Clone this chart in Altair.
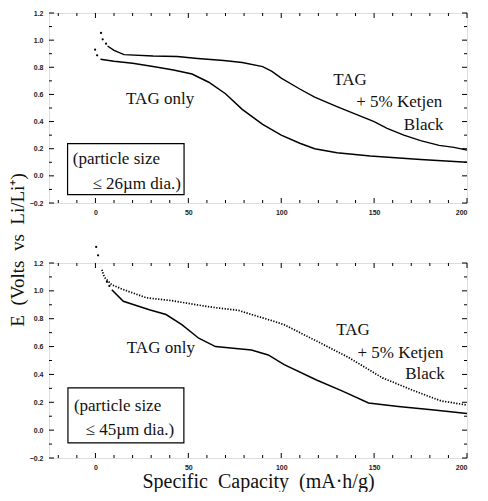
import altair as alt
import pandas as pd

# ---------------- data ----------------
# upper panel: particle size <= 26 um
top_kb_dots_x = [3.0, 3.9, 5.7]
top_kb_dots_y = [1.053, 1.006, 0.974]
top_kb_x = [6.5, 10, 15.4, 31, 44, 55, 69, 79, 90, 95, 100, 110, 118, 130, 139, 150, 157, 166, 175, 185, 193, 200]
top_kb_y = [0.957, 0.925, 0.893, 0.883, 0.88, 0.865, 0.85, 0.835, 0.805, 0.77, 0.72, 0.64, 0.58, 0.51, 0.46, 0.40, 0.35, 0.30, 0.26, 0.225, 0.21, 0.19]
top_only_dots_x = [-0.2, 0.9]
top_only_dots_y = [0.93, 0.888]
top_only_x = [2.7, 10, 20, 31, 42, 52, 61, 70, 79, 90, 100, 110, 118, 130, 148, 175, 200]
top_only_y = [0.86, 0.845, 0.83, 0.805, 0.78, 0.75, 0.69, 0.605, 0.49, 0.38, 0.30, 0.24, 0.20, 0.17, 0.146, 0.12, 0.10]

# lower panel: particle size <= 45 um
bot_kb_dots_x = [0.4, 1.4]
bot_kb_dots_y = [1.315, 1.255]
bot_kb_x = [3.5, 4.4, 5.3, 8.8, 14.8, 27.5, 41, 59, 66, 77, 84, 94, 101.6, 119, 136.5, 154.5, 172, 186, 200]
bot_kb_y = [1.152, 1.112, 1.09, 1.044, 1.01, 0.95, 0.93, 0.89, 0.877, 0.86, 0.83, 0.79, 0.757, 0.64, 0.52, 0.375, 0.28, 0.21, 0.18]
bot_only_dots_x = [6.2, 7.5]
bot_only_dots_y = [1.065, 1.035]
bot_only_x = [8.8, 15, 29, 38, 46.5, 55.6, 64.6, 77, 84, 93, 101.6, 119, 133, 147, 163, 181, 200]
bot_only_y = [1.008, 0.925, 0.865, 0.83, 0.757, 0.66, 0.60, 0.585, 0.575, 0.54, 0.47, 0.36, 0.28, 0.195, 0.17, 0.147, 0.12]

# annotations
top_lab_text = ["TAG only", "TAG", "+ 5% Ketjen", "Black"]
top_lab_x = [16.5, 128, 140.4, 166]
top_lab_y = [0.566, 0.706, 0.544, 0.377]
top_box_x = [-15, 47.7]
top_box_y = [-0.139, 0.237]
top_box_text = ["(particle size", "≤ 26µm dia.)"]
top_box_tx = [-12.2, -1.6]
top_box_ty = [0.124, -0.06]

bot_lab_text = ["TAG only", "TAG", "+ 5% Ketjen", "Black"]
bot_lab_x = [16.9, 129.6, 141, 166.7]
bot_lab_y = [0.59, 0.72, 0.554, 0.40]
bot_box_x = [-14.8, 47.6]
bot_box_y = [-0.092, 0.303]
bot_box_text = ["(particle size", "≤ 45µm dia.)"]
bot_box_tx = [-11.6, -5.3]
bot_box_ty = [0.173, 0.003]

x_major = [0, 50, 100, 150, 200]
x_minor = [-20, -10, 10, 20, 30, 40, 60, 70, 80, 90, 110, 120, 130, 140, 160, 170, 180, 190]
y_major = [-0.2, 0.0, 0.2, 0.4, 0.6, 0.8, 1.0, 1.2]
y_minor = [-0.1, 0.1, 0.3, 0.5, 0.7, 0.9, 1.1]

NB = "\u00a0"
x_title = f"Specific{NB}{NB}Capacity{NB}{NB}(mA·h/g)"
y_title = f"E{NB}{NB}(Volts{NB}{NB}vs{NB}{NB}Li/Li⁺)"

X_DOMAIN = [-25, 200]
Y_DOMAIN = [-0.2, 1.2]
W = 418
SERIF = "Liberation Serif"
SANS = "Liberation Sans"


def panel(H, kb_dx, kb_dy, kb_x, kb_y, kb_dash, on_dx, on_dy, on_x, on_y,
          lab_t, lab_x, lab_y, box_x, box_y, box_t, box_tx, box_ty, xtitle):
    xs = alt.Scale(domain=X_DOMAIN, nice=False, zero=False)
    ys = alt.Scale(domain=Y_DOMAIN, nice=False, zero=False)
    xax = alt.Axis(values=x_major, ticks=False, domain=False, grid=False,
                   labelFontSize=7, labelFont=SANS, labelFontWeight="bold",
                   labelPadding=5, labelColor="#222",
                   title=xtitle if xtitle else None,
                   titleFont=SERIF, titleFontSize=20, titleFontWeight="normal",
                   titlePadding=1, titleColor="#111")
    yax = alt.Axis(values=y_major, format=".1f", ticks=False, domain=False, grid=False,
                   labelFontSize=7, labelFont=SANS, labelFontWeight="bold",
                   labelPadding=6, labelColor="#222", title=None)
    X = lambda f: alt.X(f, type="quantitative", scale=xs, axis=xax)
    Y = lambda f: alt.Y(f, type="quantitative", scale=ys, axis=yax)

    layers = []
    # frame box for the particle-size note
    box = pd.DataFrame({"x": [box_x[0]], "x2": [box_x[1]], "y": [box_y[0]], "y2": [box_y[1]]})
    layers.append(alt.Chart(box).mark_rect(fill="white", stroke="black", strokeWidth=1.2)
                  .encode(x=X("x"), x2="x2", y=Y("y"), y2="y2"))

    kb = pd.DataFrame({"x": kb_x, "y": kb_y})
    kb_mark = dict(color="black", strokeWidth=1.4)
    if kb_dash:
        kb_mark = dict(color="black", strokeWidth=1.7, strokeDash=[1.3, 1.5])
    layers.append(alt.Chart(kb).mark_line(**kb_mark).encode(x=X("x"), y=Y("y")))
    on = pd.DataFrame({"x": on_x, "y": on_y})
    layers.append(alt.Chart(on).mark_line(color="black", strokeWidth=1.5).encode(x=X("x"), y=Y("y")))
    dots = pd.DataFrame({"x": list(kb_dx) + list(on_dx), "y": list(kb_dy) + list(on_dy)})
    if len(dots):
        layers.append(alt.Chart(dots).mark_circle(color="black", size=5, opacity=1)
                      .encode(x=X("x"), y=Y("y")))

    labs = pd.DataFrame({"t": lab_t, "x": lab_x, "y": lab_y})
    layers.append(alt.Chart(labs).mark_text(align="left", baseline="middle", font=SERIF,
                                            fontSize=17, color="#111")
                  .encode(x=X("x"), y=Y("y"), text="t"))
    bt = pd.DataFrame({"t": box_t, "x": box_tx, "y": box_ty})
    layers.append(alt.Chart(bt).mark_text(align="left", baseline="middle", font=SERIF,
                                          fontSize=17, color="#111")
                  .encode(x=X("x"), y=Y("y"), text="t"))

    # inward tick marks on all four sides
    for vals, ln in ((x_major, 5), (x_minor, 3)):
        d = pd.DataFrame({"v": vals})
        layers.append(alt.Chart(d).mark_rule(color="black", strokeWidth=1)
                      .encode(x=X("v"), y=alt.value(H), y2=alt.value(H - ln)))
        layers.append(alt.Chart(d).mark_rule(color="black", strokeWidth=1)
                      .encode(x=X("v"), y=alt.value(0), y2=alt.value(ln)))
    for vals, ln in ((y_major, 5), (y_minor, 3)):
        d = pd.DataFrame({"v": vals})
        layers.append(alt.Chart(d).mark_rule(color="black", strokeWidth=1)
                      .encode(y=Y("v"), x=alt.value(0), x2=alt.value(ln)))
        layers.append(alt.Chart(d).mark_rule(color="black", strokeWidth=1)
                      .encode(y=Y("v"), x=alt.value(W), x2=alt.value(W - ln)))

    return alt.layer(*layers).properties(width=W, height=H)


top = panel(190, top_kb_dots_x, top_kb_dots_y, top_kb_x, top_kb_y, False,
            top_only_dots_x, top_only_dots_y, top_only_x, top_only_y,
            top_lab_text, top_lab_x, top_lab_y, top_box_x, top_box_y,
            top_box_text, top_box_tx, top_box_ty, None)
bot = panel(195, bot_kb_dots_x, bot_kb_dots_y, bot_kb_x, bot_kb_y, True,
            bot_only_dots_x, bot_only_dots_y, bot_only_x, bot_only_y,
            bot_lab_text, bot_lab_x, bot_lab_y, bot_box_x, bot_box_y,
            bot_box_text, bot_box_tx, bot_box_ty, x_title)

chart = alt.vconcat(top, bot, spacing=29).properties(
    title=alt.TitleParams(y_title, orient="left", anchor="middle",
                          font=SERIF, fontSize=19, fontWeight="normal", color="#111", offset=1),
    padding={"left": 0, "top": 0, "right": 0, "bottom": 0},
).configure_view(stroke="black", strokeWidth=1.3).configure(background="white")

chart.save("out.html", embed_options={"renderer": "svg", "actions": False})
